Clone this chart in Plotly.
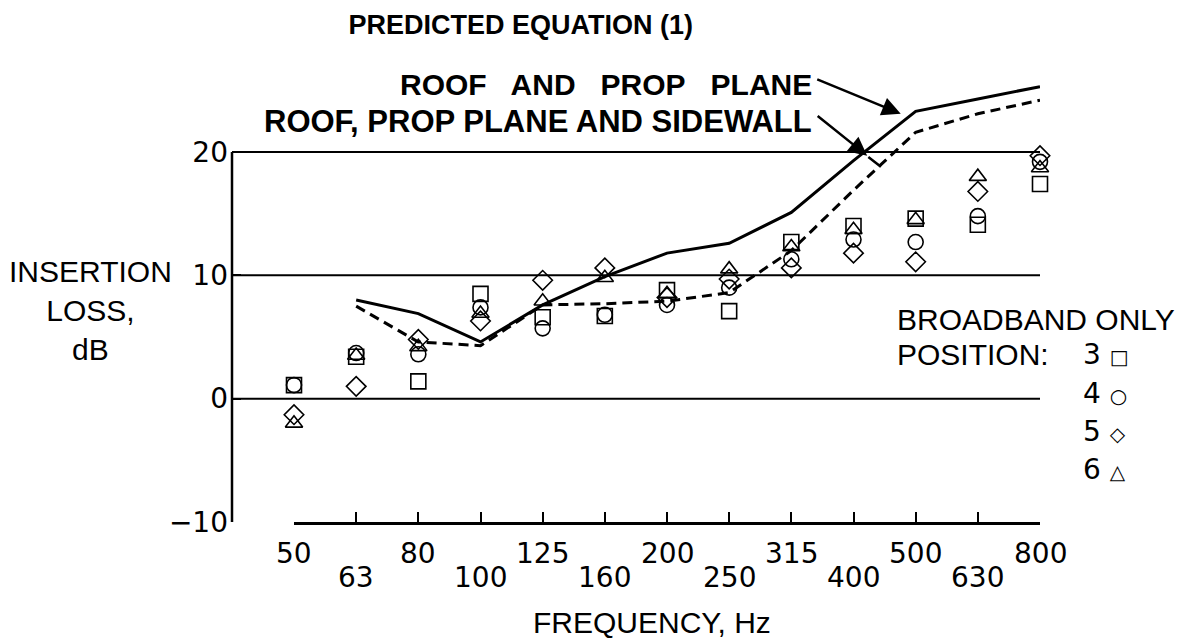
import plotly.graph_objects as go

freqs = ["50", "63", "80", "100", "125", "160", "200", "250", "315", "400", "500", "630", "800"]
roof_prop = [None, 8.0, 6.9, 4.6, 7.6, 9.9, 11.8, 12.6, 15.1, 19.3, 23.3, 24.3, 25.3]
roof_prop_side = [None, 7.5, 4.6, 4.3, 7.6, 7.7, 7.9, 8.6, 12.0, 16.9, 21.6, 23.1, 24.2]
pos3 = [1.1, 3.4, 1.4, 8.5, 6.6, 6.7, 8.8, 7.1, 12.7, 14.0, 14.6, 14.1, 17.4]
pos4 = [1.1, 3.7, 3.6, 7.4, 5.7, 6.8, 7.6, 9.0, 11.3, 12.9, 12.7, 14.8, 19.2]
pos5 = [-1.3, 1.0, 4.8, 6.3, 9.6, 10.6, 8.2, 9.7, 10.6, 11.8, 11.1, 16.8, 19.7]
pos6 = [-2.0, 3.5, 4.2, 6.9, 7.9, 9.8, 8.5, 10.5, 12.3, 13.7, 14.5, 18.0, 18.7]
y_ticks = [-10, 0, 10, 20]
legend_rows = [("3", "□"), ("4", "○"), ("5", "◇"), ("6", "△")]

idx = list(range(len(freqs)))
FONT = "Liberation Sans, Arial, sans-serif"
NUMFONT = "DejaVu Sans, Liberation Sans, sans-serif"

fig = go.Figure()
fig.add_trace(go.Scatter(x=idx, y=roof_prop, mode="lines",
                         line=dict(color="black", width=3), cliponaxis=False))
fig.add_trace(go.Scatter(x=idx, y=roof_prop_side, mode="lines",
                         line=dict(color="black", width=3, dash="10px,6px"), cliponaxis=False))

for vals, sym in [(pos3, "square-open"), (pos4, "circle-open"),
                  (pos5, "diamond-open"), (pos6, "triangle-up-open")]:
    fig.add_trace(go.Scatter(x=idx, y=vals, mode="markers", cliponaxis=False,
                             marker=dict(symbol=sym, size=15, color="black",
                                         line=dict(color="black", width=1.6))))

# horizontal reference lines spanning the whole plot width
for v in y_ticks[1:]:
    fig.add_shape(type="line", xref="paper", x0=0, x1=1, yref="y", y0=v, y1=v,
                  line=dict(color="black", width=2))
# vertical axis line from -10 to 20
fig.add_shape(type="line", xref="paper", x0=0, x1=0, yref="y", y0=y_ticks[0], y1=y_ticks[-1],
              line=dict(color="black", width=2.5))

# staggered tick labels
for i, f in enumerate(freqs):
    fig.add_annotation(x=i, xref="x", y=0, yref="paper", yanchor="middle",
                       yshift=-31 if i % 2 == 0 else -55, text=f, showarrow=False,
                       font=dict(family=NUMFONT, size=28, color="black"))

# y axis title
fig.add_annotation(x=0, xref="paper", xanchor="center", xshift=-142, y=10, yref="y",
                   yanchor="top", yshift=22,
                   text="INSERTION<br>LOSS,<br>dB", showarrow=False, align="center",
                   font=dict(family=FONT, size=30, color="black"))
fig.add_annotation(x=0.52, xref="paper", y=0, yref="paper", yanchor="middle", yshift=-100,
                   text="FREQUENCY, Hz", showarrow=False,
                   font=dict(family=FONT, size=30, color="black"))

# curve labels
fig.add_annotation(x=9, xref="x", xanchor="right", xshift=-40, y=25.5, yref="y",
                   text="<b>ROOF\u00a0\u00a0 AND\u00a0\u00a0 PROP\u00a0\u00a0 PLANE</b>", showarrow=False,
                   font=dict(family=FONT, size=30, color="black"))
fig.add_annotation(x=9, xref="x", xanchor="right", xshift=-40, y=22.5, yref="y",
                   text="<b>ROOF, PROP PLANE AND SIDEWALL</b>", showarrow=False,
                   font=dict(family=FONT, size=31, color="black"))
# arrow to the solid curve
fig.add_annotation(x=9.76, y=23.1, xref="x", yref="y", ax=-85, ay=-35, text="",
                   showarrow=True, arrowhead=2, arrowsize=1.5, arrowwidth=2.5, arrowcolor="black")
# arrow to the dashed curve, with short leader continuing past the head
fig.add_annotation(x=9.44, y=18.8, xref="x", yref="y", ax=-14, ay=-11, text="",
                   showarrow=True, arrowhead=0, arrowwidth=2.5, arrowcolor="black")
fig.add_annotation(x=9.22, y=19.7, xref="x", yref="y", ax=-51, ay=-41, text="",
                   showarrow=True, arrowhead=2, arrowsize=1.5, arrowwidth=2.5, arrowcolor="black")

# legend text
fig.add_annotation(x=1.0, xref="paper", xanchor="left", xshift=-145, y=6.4, yref="y",
                   text="BROADBAND ONLY", showarrow=False,
                   font=dict(family=FONT, size=30, color="black"))
fig.add_annotation(x=1.0, xref="paper", xanchor="left", xshift=-145, y=3.55, yref="y",
                   text="POSITION:", showarrow=False,
                   font=dict(family=FONT, size=30, color="black"))
for k, (lab, sym) in enumerate(legend_rows):
    fig.add_annotation(x=1.0, xref="paper", xanchor="left", xshift=41, y=3.55 - 3.1 * k, yref="y",
                       text=lab + " <span style='font-size:20px'>" + sym + "</span>",
                       showarrow=False,
                       font=dict(family=NUMFONT, size=28, color="black"))

d0 = 62 / 808
fig.update_layout(
    width=1200, height=643,
    margin=dict(l=232, r=160, t=78, b=121),
    paper_bgcolor="white", plot_bgcolor="white",
    showlegend=False,
    title=dict(text="<b>PREDICTED EQUATION (1)</b>", x=0.434, xanchor="center",
               y=1 - 25 / 643, yanchor="middle",
               font=dict(family=FONT, size=27, color="black")),
    xaxis=dict(domain=[d0, 1], range=[0, 12], tickvals=idx, showticklabels=False,
               showline=True, linecolor="black", linewidth=2.5, ticks="inside",
               ticklen=10, tickwidth=2, tickcolor="black", showgrid=False, zeroline=False),
    yaxis=dict(range=[-10, 26], tickvals=y_ticks, ticktext=["−10", "0", "10", "20"],
               anchor="free", position=0, showline=False, ticks="inside", ticklen=8,
               tickwidth=2, tickcolor="black", showgrid=False, zeroline=False,
               ticklabelstandoff=4,
               tickfont=dict(family=NUMFONT, size=28, color="black")),
)

fig.write_html("out.html")
